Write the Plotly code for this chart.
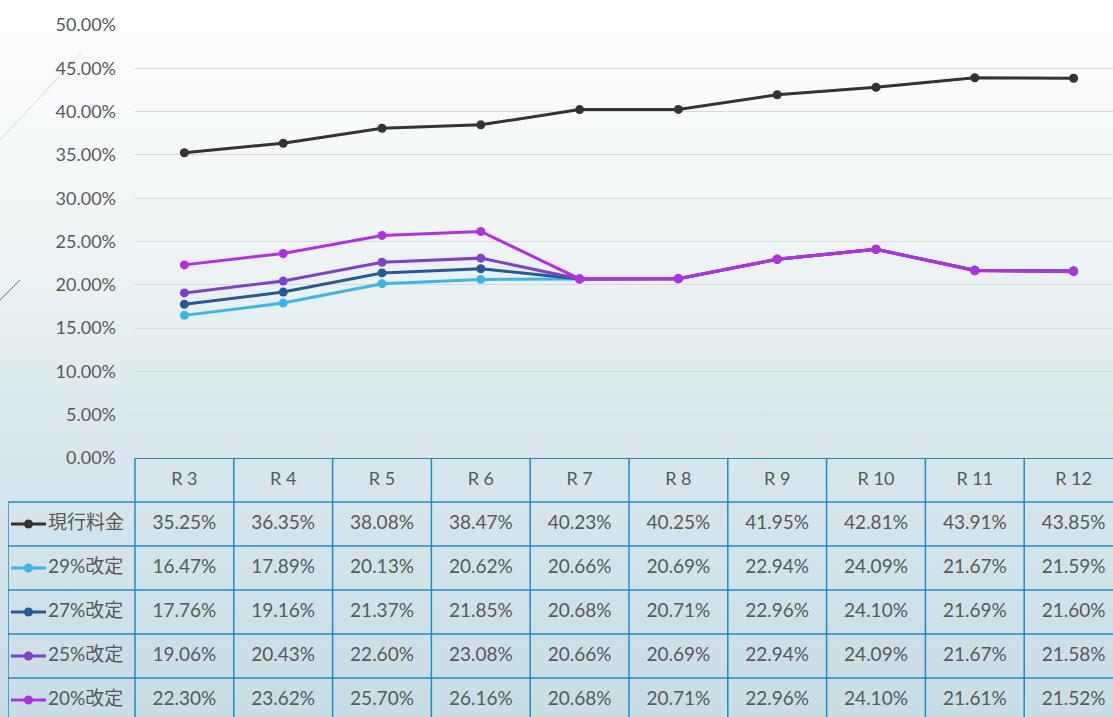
import base64
import plotly.graph_objects as go

# ---------------- data ----------------
categories = ["R3", "R4", "R5", "R6", "R7", "R8", "R9", "R10", "R11", "R12"]
series_names = ["現行料金", "29%改定", "27%改定", "25%改定", "20%改定"]
current_rate = [35.25, 36.35, 38.08, 38.47, 40.23, 40.25, 41.95, 42.81, 43.91, 43.85]
rev_29 = [16.47, 17.89, 20.13, 20.62, 20.66, 20.69, 22.94, 24.09, 21.67, 21.59]
rev_27 = [17.76, 19.16, 21.37, 21.85, 20.68, 20.71, 22.96, 24.10, 21.69, 21.60]
rev_25 = [19.06, 20.43, 22.60, 23.08, 20.66, 20.69, 22.94, 24.09, 21.67, 21.58]
rev_20 = [22.30, 23.62, 25.70, 26.16, 20.68, 20.71, 22.96, 24.10, 21.61, 21.52]
y_ticks = [0, 5, 10, 15, 20, 25, 30, 35, 40, 45, 50]

series_values = [current_rate, rev_29, rev_27, rev_25, rev_20]
series_colors = ["#333333", "#38b6e8", "#275a94", "#8040cc", "#b52ee6"]

# ---------------- layout constants ----------------
W, H = 1113, 717
plot_left, plot_top, plot_bottom = 135, 25, 458
col_w = 98.8
label_left = 8
row_h = 44
text_color = "#595959"
border_color = "#1f8cc4"
FONT = "Century Gothic, Lato, Noto Sans CJK JP, sans-serif"

x_right = -0.5 + (W - plot_left) / col_w
x2_left = -0.5 - (plot_left - label_left) / col_w
y2_bottom = -0.5 + (H - plot_bottom) / row_h

fig = go.Figure()

# ---------------- line chart ----------------
for name, vals, color in zip(series_names, series_values, series_colors):
    fig.add_trace(go.Scatter(
        x=list(range(len(categories))), y=[v / 100 for v in vals],
        mode="lines+markers", name=name,
        line=dict(color=color, width=3),
        marker=dict(color=color, size=9),
        xaxis="x", yaxis="y", showlegend=False, hoverinfo="skip",
    ))

# ---------------- data table ----------------
fig.add_trace(go.Scatter(
    x=list(range(len(categories))), y=[0] * len(categories),
    mode="text", text=[c[0] + " " + c[1:] for c in categories],
    textfont=dict(family=FONT, size=18, color=text_color),
    xaxis="x2", yaxis="y2", showlegend=False, hoverinfo="skip", cliponaxis=False,
))
for r, (name, vals, color) in enumerate(zip(series_names, series_values, series_colors), start=1):
    fig.add_trace(go.Scatter(
        x=list(range(len(categories))), y=[r] * len(categories),
        mode="text", text=[f"{v:.2f}%" for v in vals],
        textfont=dict(family=FONT, size=19, color=text_color),
        xaxis="x2", yaxis="y2", showlegend=False, hoverinfo="skip", cliponaxis=False,
    ))
    kx0 = x2_left + (11 - label_left) / col_w
    kx1 = x2_left + (46 - label_left) / col_w
    fig.add_trace(go.Scatter(
        x=[kx0, kx1], y=[r, r], mode="lines",
        line=dict(color=color, width=3),
        xaxis="x2", yaxis="y2", showlegend=False, hoverinfo="skip", cliponaxis=False,
    ))
    fig.add_trace(go.Scatter(
        x=[(kx0 + kx1) / 2], y=[r], mode="markers",
        marker=dict(color=color, size=9),
        xaxis="x2", yaxis="y2", showlegend=False, hoverinfo="skip", cliponaxis=False,
    ))
    fig.add_trace(go.Scatter(
        x=[x2_left + (48 - label_left) / col_w], y=[r], mode="text",
        text=[name], textposition="middle right",
        textfont=dict(family=FONT, size=19, color=text_color),
        xaxis="x2", yaxis="y2", showlegend=False, hoverinfo="skip", cliponaxis=False,
    ))

shapes = []
n_rows = len(series_names)
shapes.append(dict(type="line", xref="x2", yref="y2", x0=-0.5, x1=x_right + 0.2,
                   y0=-0.5, y1=-0.5, line=dict(color=border_color, width=2)))
for r in range(n_rows):
    shapes.append(dict(type="line", xref="x2", yref="y2", x0=x2_left, x1=x_right + 0.2,
                       y0=r + 0.5, y1=r + 0.5, line=dict(color=border_color, width=1.5)))
for c in range(len(categories)):
    shapes.append(dict(type="line", xref="x2", yref="y2", x0=c - 0.5, x1=c - 0.5,
                       y0=-0.5, y1=y2_bottom + 0.2, line=dict(color=border_color, width=1.5)))
shapes.append(dict(type="line", xref="x2", yref="y2", x0=x2_left, x1=x2_left,
                   y0=0.5, y1=y2_bottom + 0.2, line=dict(color=border_color, width=1.5)))

# decorative strokes
shapes.append(dict(type="line", xref="paper", yref="paper", layer="below",
                   x0=0, y0=1 - 140 / H, x1=82 / W, y1=1 - 52 / H,
                   line=dict(color="#d4d8da", width=1)))
shapes.append(dict(type="line", xref="paper", yref="paper", layer="below",
                   x0=0, y0=1 - 300 / H, x1=20 / W, y1=1 - 280 / H,
                   line=dict(color="#5a7a90", width=1)))

svg = (
    f'<svg xmlns="http://www.w3.org/2000/svg" width="{W}" height="{H}" preserveAspectRatio="none">'
    '<defs><linearGradient id="g" x1="0" y1="0" x2="0" y2="1">'
    '<stop offset="0" stop-color="#fdfefe"/>'
    '<stop offset="0.3" stop-color="#f2f6f7"/>'
    '<stop offset="0.62" stop-color="#d9e7ec"/>'
    '<stop offset="1" stop-color="#c9dde4"/>'
    '</linearGradient></defs>'
    f'<rect width="{W}" height="{H}" fill="url(#g)"/></svg>'
)
bg_src = "data:image/svg+xml;base64," + base64.b64encode(svg.encode()).decode()

fig.update_layout(
    width=W, height=H, autosize=False,
    margin=dict(l=0, r=0, t=0, b=0, autoexpand=False),
    paper_bgcolor="white", plot_bgcolor="rgba(0,0,0,0)",
    font=dict(family=FONT, color=text_color),
    shapes=shapes,
    images=[dict(source=bg_src, xref="paper", yref="paper", x=0, y=1,
                 sizex=1, sizey=1, sizing="stretch", layer="below")],
    xaxis=dict(domain=[plot_left / W, 1], range=[-0.5, x_right], automargin=False,
               showgrid=False, zeroline=False, showticklabels=False, showline=False),
    yaxis=dict(domain=[(H - plot_bottom) / H, (H - plot_top) / H], range=[0, 0.5],
               automargin=False,
               tickvals=[t / 100 for t in y_ticks], tickformat=".2%",
               showgrid=True, gridcolor="#d9d9d9", gridwidth=1, zeroline=False,
               showline=False, ticks="", ticklabelstandoff=18,
               tickfont=dict(family=FONT, size=18, color=text_color)),
    xaxis2=dict(domain=[label_left / W, 1], range=[x2_left, x_right], visible=False,
                automargin=False),
    yaxis2=dict(domain=[0, (H - plot_bottom) / H], range=[y2_bottom, -0.5], visible=False,
                automargin=False),
)

fig.write_html(
    "out.html",
    config={"responsive": False, "displayModeBar": False},
    post_script="document.body.style.margin='0';document.body.style.overflow='hidden';",
)
